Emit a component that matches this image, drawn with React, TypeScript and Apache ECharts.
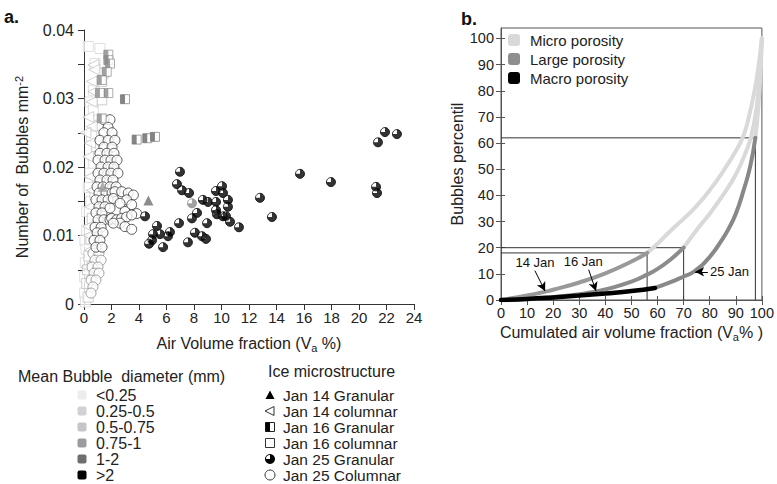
import React, { useEffect, useRef } from 'react';
import * as echarts from 'echarts';

const FONT = 'Liberation Sans, Arial, Helvetica, sans-serif';

// ---------- Panel a: scatter data ----------
const xTicksA = [0, 2, 4, 6, 8, 10, 12, 14, 16, 18, 20, 22, 24];

// Jan 25 Granular (diameter > 2)
const jan25Granular: number[][] = [
  [6.98, 0.0193], [6.76, 0.0175], [7.13, 0.0166], [7.64, 0.0162], [8.65, 0.0152], [9.02, 0.0149],
  [4.44, 0.0128], [9.6, 0.0165], [10.04, 0.0172], [10.11, 0.0162], [10.47, 0.0152], [9.6, 0.0149],
  [10.47, 0.0142], [9.6, 0.0137], [9.67, 0.0131], [10.11, 0.0128], [10.33, 0.0128], [10.62, 0.012],
  [11.27, 0.0112], [12.8, 0.0155], [13.67, 0.0127], [15.71, 0.019], [17.96, 0.0178], [8.22, 0.0133],
  [7.85, 0.0125], [8.95, 0.0118], [6.91, 0.0118], [8.07, 0.0104], [8.58, 0.0099], [8.87, 0.0095],
  [7.56, 0.009], [6.25, 0.0105], [6.11, 0.0099], [5.53, 0.0102], [5.02, 0.0102], [5.31, 0.0114],
  [4.95, 0.0093], [4.73, 0.0088], [5.75, 0.0083], [21.38, 0.0236], [21.89, 0.0251], [22.76, 0.0248],
  [21.24, 0.0171], [21.31, 0.0162]
];
// Jan 25 Granular (diameter 0.75-1)
const jan25GranularGray: number[][] = [[7.85, 0.0147]];

// Jan 25 Columnar (open circles)
const jan25Columnar: number[][] = [
  [1.45, 0.0269], [1.89, 0.0269], [1.75, 0.0258], [1.45, 0.025], [2.04, 0.025], [1.16, 0.0239],
  [1.75, 0.0239], [2.25, 0.0239], [1.45, 0.0229], [2.04, 0.0229], [1.16, 0.022], [1.67, 0.022],
  [2.18, 0.022], [1.02, 0.021], [1.53, 0.021], [1.96, 0.021], [2.4, 0.021], [1.24, 0.02],
  [1.75, 0.02], [2.18, 0.02], [1.02, 0.0191], [1.45, 0.0191], [1.96, 0.0191], [2.47, 0.0191],
  [1.16, 0.0181], [1.67, 0.0181], [2.11, 0.0181], [0.95, 0.0171], [1.38, 0.0171], [1.89, 0.0171],
  [2.33, 0.0171], [1.09, 0.0162], [1.6, 0.0162], [2.04, 0.0162], [0.87, 0.0152], [1.31, 0.0152],
  [1.75, 0.0152], [1.09, 0.0142], [1.53, 0.0142], [0.87, 0.0133], [1.31, 0.0133], [1.02, 0.0123],
  [1.45, 0.0123], [1.89, 0.0123], [0.8, 0.0112], [1.24, 0.0112], [0.95, 0.0104], [1.38, 0.0104],
  [0.73, 0.0093], [1.16, 0.0093], [0.87, 0.0083], [1.31, 0.0083],
  [2.25, 0.0164], [2.74, 0.0164], [3.22, 0.0162], [3.59, 0.0159], [2.13, 0.0154], [3.1, 0.0152],
  [2.62, 0.0147], [3.47, 0.0145], [1.89, 0.014], [2.98, 0.0135], [3.83, 0.0132], [2.01, 0.0125],
  [2.38, 0.0123], [2.74, 0.0125], [3.1, 0.0127], [3.47, 0.013], [2.62, 0.0118], [2.98, 0.0113],
  [3.47, 0.0109], [2.13, 0.0118]
];
const jan25ColumnarSmall: number[][] = [
  [0.65, 0.0074], [1.09, 0.0074], [0.8, 0.0064], [1.24, 0.0064], [0.58, 0.0054], [1.02, 0.0054],
  [0.73, 0.0045], [1.09, 0.0045], [0.51, 0.0035], [0.87, 0.0035], [0.65, 0.0025], [0.51, 0.0016]
];

// Jan 16 columnar (open squares)
const jan16ColumnarLight: number[][] = [
  [1.16, 0.0373], [0.31, 0.0376], [0.8, 0.0351], [0.68, 0.0312], [0.44, 0.0295], [0.68, 0.0283],
  [0.55, 0.0245], [0.68, 0.0205], [0.44, 0.0191], [0.3, 0.017], [0.5, 0.015], [0.2, 0.0135],
  [0.2, 0.0108], [0.07, 0.0093], [0.15, 0.008], [0.1, 0.006], [0.05, 0.004], [-0.05, 0.003],
  [0.05, 0.0016], [0.1, 0.0003]
];
const jan16ColumnarMid: number[][] = [
  [1.4, 0.0337], [1.29, 0.0325], [1.29, 0.0298], [1.16, 0.0261], [0.9, 0.023], [1.0, 0.0185],
  [0.8, 0.016], [0.6, 0.0125], [0.5, 0.0095], [0.35, 0.007], [0.25, 0.005], [0.2, 0.003], [0.3, 0.001]
];

// Jan 14 columnar (left triangles)
const jan14Columnar: number[][] = [
  [0.68, 0.0349], [0.75, 0.0342], [0.56, 0.0325], [0.68, 0.031], [0.56, 0.0295], [0.31, 0.0273],
  [0.56, 0.0259], [0.1, 0.025], [0.44, 0.0235], [0.3, 0.0215], [0.44, 0.0186], [0.56, 0.0166],
  [0.44, 0.0142], [0.31, 0.0113], [0.44, 0.0079], [0.2, 0.0054], [0.56, 0.004], [0.35, 0.01],
  [0.6, 0.006]
];

// Jan 16 Granular (half-filled squares)
const jan16Granular: number[][] = [
  [1.77, 0.0364], [1.77, 0.0356], [1.89, 0.0351], [1.65, 0.0339], [1.29, 0.0327], [1.77, 0.0308],
  [1.16, 0.0308], [1.29, 0.0271]
];
const jan16GranularDark: number[][] = [[2.98, 0.0299], [3.83, 0.024], [4.6, 0.0242], [5.16, 0.0244]];

// Jan 14 Granular (filled triangles)
const jan14GranularMid: number[][] = [[1.36, 0.0171]];
const jan14GranularDark: number[][] = [[4.68, 0.0151]];

// ---------- Panel b: curves ----------
const jan14Large: number[][] = [[0, 0], [10, 1.7], [17, 3.2], [20, 3.9], [30, 6.7], [40, 10.2], [50, 14.7], [56, 18]];
const jan14Micro: number[][] = [[56, 18], [60, 21.5], [65, 26.5], [70, 31], [75, 36], [80, 42], [85, 49], [90, 57], [93, 63], [95, 70], [97, 79], [98.5, 88], [100, 100]];
const jan16Large: number[][] = [[0, 0], [10, 0.4], [20, 1.1], [30, 2.2], [36, 3.2], [40, 4], [50, 7], [56, 9.7], [60, 11.9], [65, 15.5], [70, 20]];
const jan16Micro: number[][] = [[70, 20], [75, 26.8], [80, 33], [85, 40], [90, 48], [94, 57], [96, 63], [98, 74], [99, 84], [100, 100]];
const jan25Macro: number[][] = [[0, 0], [10, 0.4], [20, 1], [30, 1.7], [40, 2.5], [50, 3.4], [59, 4.6]];
const jan25Large: number[][] = [[59, 4.6], [65, 6.8], [70, 9], [74, 10.9], [80, 16.5], [85, 23.5], [87, 26.8], [90, 33], [93, 42], [95.5, 51], [97.5, 62]];
const jan25Micro: number[][] = [[97.5, 62], [98.5, 72], [99.3, 84], [100, 100]];

const ref14: number[][] = [[0, 18], [56, 18], [56, 0]];
const ref16: number[][] = [[0, 20], [70, 20], [70, 0]];
const ref25: number[][] = [[0, 62], [97.5, 62], [97.5, 0]];

const yTicksB = [0, 10, 20, 30, 40, 50, 60, 70, 80, 90, 100];

// legends
const diameterClasses = ['<0.25', '0.25-0.5', '0.5-0.75', '0.75-1', '1-2', '>2'];
const diameterColors = ['#ececec', '#d2d2d2', '#c6c6c6', '#9c9c9c', '#6e6e6e', '#000000'];
const iceClasses = ['Jan 14 Granular', 'Jan 14 columnar', 'Jan 16 Granular', 'Jan 16 columnar', 'Jan 25 Granular', 'Jan 25 Columnar'];
const porosityNames = ['Micro porosity', 'Large porosity', 'Macro porosity'];
const porosityColors = ['#d9d9d9', '#8e8e8e', '#000000'];

const annotations = [
  { text: '14 Jan', at: [13, 14.3], from: [13, 11.2], to: [16.9, 3.4] },
  { text: '16 Jan', at: [31.5, 14.6], from: [33.6, 11.6], to: [36.4, 3.4] },
  { text: '25 Jan', at: [87.6, 10.8], from: [79.3, 10.8], to: [74.4, 10.8] },
];

const QUARTER_PATH = 'path://M50,50 L50,0 A50,50 0 1 1 0,50 Z';

function sc(data: number[][], extra: any) {
  return { type: 'scatter', xAxisIndex: 0, yAxisIndex: 0, data, symbolSize: 10, silent: true, ...extra };
}
function curve(data: number[][], color: string, width: number, z: number) {
  return {
    type: 'line', xAxisIndex: 1, yAxisIndex: 1, data, smooth: true, symbol: 'none', z,
    lineStyle: { color, width, cap: 'round' }, silent: true,
  };
}
function refLine(data: number[][], extra: any = {}) {
  return {
    type: 'line', xAxisIndex: 1, yAxisIndex: 1, data, symbol: 'none', z: 1,
    lineStyle: { color: '#333', width: 1 }, silent: true, ...extra,
  };
}

export default function App() {
  const ref = useRef<HTMLDivElement>(null);
  useEffect(() => {
    if (!ref.current) return;
    const chart = echarts.init(ref.current, null, { renderer: 'svg' });
    const textBase = { fontFamily: FONT, color: '#222' };

    const series: any[] = [
      sc(jan16ColumnarLight, { symbol: 'rect', itemStyle: { color: '#fff', borderColor: '#d8d8d8', borderWidth: 1 } }),
      sc(jan16ColumnarMid, { symbol: 'rect', itemStyle: { color: '#fff', borderColor: '#c2c2c2', borderWidth: 1 } }),
      sc(jan14Columnar, { symbol: 'triangle', symbolRotate: 90, symbolSize: 11, itemStyle: { color: '#fff', borderColor: '#c4c4c4', borderWidth: 1 } }),
      sc(jan25ColumnarSmall, { symbol: 'circle', itemStyle: { color: '#fff', borderColor: '#888', borderWidth: 1 } }),
      sc(jan25Columnar, { symbol: 'circle', itemStyle: { color: '#fff', borderColor: '#333', borderWidth: 1 } }),
      sc(jan16Granular, { symbol: 'rect', symbolSize: 9, itemStyle: { color: '#fff', borderColor: '#999', borderWidth: 1 } }),
      sc(jan16Granular, { symbol: 'rect', symbolSize: [4.5, 9], symbolOffset: [-2.25, 0], itemStyle: { color: '#8a8a8a' } }),
      sc(jan16GranularDark, { symbol: 'rect', symbolSize: 9, itemStyle: { color: '#fff', borderColor: '#888', borderWidth: 1 } }),
      sc(jan16GranularDark, { symbol: 'rect', symbolSize: [4.5, 9], symbolOffset: [-2.25, 0], itemStyle: { color: '#666' } }),
      sc(jan14GranularMid, { symbol: 'triangle', symbolSize: 10, itemStyle: { color: '#9c9c9c' } }),
      sc(jan14GranularDark, { symbol: 'triangle', symbolSize: 10, itemStyle: { color: '#6e6e6e' } }),
      sc(jan25Granular, { symbol: 'circle', symbolSize: 9, itemStyle: { color: '#fff', borderColor: '#000', borderWidth: 1 } }),
      sc(jan25Granular, { symbol: QUARTER_PATH, symbolSize: 9, itemStyle: { color: '#000' } }),
      sc(jan25GranularGray, { symbol: 'circle', symbolSize: 9, itemStyle: { color: '#fff', borderColor: '#888', borderWidth: 1 } }),
      sc(jan25GranularGray, { symbol: QUARTER_PATH, symbolSize: 9, itemStyle: { color: '#888' } }),
      // panel b
      refLine(ref14),
      refLine(ref16),
      refLine(ref25, {
        markLine: {
          silent: true, symbol: ['none', 'arrow'], symbolSize: [7, 9], label: { show: false },
          lineStyle: { color: '#000', width: 1, type: 'solid' },
          data: annotations.map((a) => [{ coord: a.from }, { coord: a.to }]),
        },
        markPoint: {
          silent: true, symbol: 'circle', symbolSize: 1, itemStyle: { color: 'rgba(0,0,0,0)' },
          label: { show: true, position: 'inside', fontSize: 13, fontFamily: FONT, color: '#111', formatter: (p: any) => p.name },
          data: annotations.map((a) => ({ name: a.text, coord: a.at })),
        },
      }),
      curve(jan14Micro, porosityColors[0], 4, 2),
      curve(jan16Micro, porosityColors[0], 4, 2),
      curve(jan25Micro, porosityColors[0], 4, 2),
      curve(jan14Large, '#999999', 4, 3),
      curve(jan16Large, '#8c8c8c', 4, 3),
      curve(jan25Large, '#888888', 4, 3),
      curve(jan25Macro, '#000000', 4.5, 4),
    ];

    const graphic: any[] = [
      { type: 'text', left: 4, top: 8, style: { text: 'a.', font: `bold 18px ${FONT}`, fill: '#111' } },
      { type: 'text', left: 461, top: 10, style: { text: 'b.', font: `bold 18px ${FONT}`, fill: '#111' } },
      { type: 'text', x: 18, y: 376, style: { text: 'Mean Bubble  diameter (mm)', font: `16px ${FONT}`, fill: '#222', verticalAlign: 'middle' } },
      { type: 'text', x: 268, y: 371, style: { text: 'Ice microstructure', font: `16px ${FONT}`, fill: '#222', verticalAlign: 'middle' } },
    ];
    diameterClasses.forEach((c, i) => {
      const y = 395 + i * 16;
      graphic.push({ type: 'rect', shape: { x: 77.5, y: y - 4.5, width: 9, height: 9, r: 2 }, style: { fill: diameterColors[i] } });
      graphic.push({ type: 'text', x: 96, y, style: { text: c, font: `16px ${FONT}`, fill: '#222', verticalAlign: 'middle' } });
    });
    iceClasses.forEach((c, i) => {
      const y = 395 + i * 16;
      const cx = 270;
      if (i === 0) graphic.push({ type: 'polygon', shape: { points: [[cx - 4.5, y + 4], [cx + 4.5, y + 4], [cx, y - 4.5]] }, style: { fill: '#000' } });
      if (i === 1) graphic.push({ type: 'polygon', shape: { points: [[cx + 4, y - 4.5], [cx + 4, y + 4.5], [cx - 5, y]] }, style: { fill: '#fff', stroke: '#333', lineWidth: 1 } });
      if (i === 2) {
        graphic.push({ type: 'rect', shape: { x: cx - 4.5, y: y - 4.5, width: 9, height: 9 }, style: { fill: '#fff', stroke: '#222', lineWidth: 1 } });
        graphic.push({ type: 'rect', shape: { x: cx - 4.5, y: y - 4.5, width: 4.5, height: 9 }, style: { fill: '#000' } });
      }
      if (i === 3) graphic.push({ type: 'rect', shape: { x: cx - 4.5, y: y - 4.5, width: 9, height: 9 }, style: { fill: '#fff', stroke: '#333', lineWidth: 1 } });
      if (i === 4) {
        graphic.push({ type: 'circle', shape: { cx, cy: y, r: 5 }, style: { fill: '#000' } });
        graphic.push({ type: 'sector', shape: { cx, cy: y, r: 4, r0: 0, startAngle: Math.PI, endAngle: Math.PI * 1.5 }, style: { fill: '#fff' } });
      }
      if (i === 5) graphic.push({ type: 'circle', shape: { cx, cy: y, r: 5 }, style: { fill: '#fff', stroke: '#333', lineWidth: 1 } });
      graphic.push({ type: 'text', x: 283, y, style: { text: c, font: `15.5px ${FONT}`, fill: '#222', verticalAlign: 'middle' } });
    });
    porosityNames.forEach((n, i) => {
      const y = 40 + i * 19;
      graphic.push({ type: 'rect', shape: { x: 508, y: y - 6, width: 12, height: 12, r: 3 }, style: { fill: porosityColors[i] } });
      graphic.push({ type: 'text', x: 530, y, style: { text: n, font: `15px ${FONT}`, fill: '#222', verticalAlign: 'middle' } });
    });

    const option: any = {
      animation: false,
      backgroundColor: '#fff',
      grid: [
        { left: 84, top: 30, width: 330, height: 274 },
        { left: 501, top: 28, width: 261, height: 272, show: true, borderColor: '#555', borderWidth: 1 },
      ],
      xAxis: [
        {
          gridIndex: 0, type: 'value', min: 0, max: 24, interval: 2,
          axisLine: { onZero: false, lineStyle: { color: '#333' } },
          axisTick: { length: 6, lineStyle: { color: '#333' } },
          axisLabel: { ...textBase, fontSize: 15, margin: 6, customValues: xTicksA },
          splitLine: { show: false },
          name: 'Air Volume fraction (V{sub|a} %)', nameLocation: 'middle', nameGap: 30,
          nameTextStyle: { ...textBase, fontSize: 16, rich: { sub: { fontSize: 11, verticalAlign: 'bottom', padding: [8, 0, 0, 0], fontFamily: FONT, color: '#222' } } },
        },
        {
          gridIndex: 1, type: 'value', min: 0, max: 100, interval: 10,
          axisLine: { onZero: false, lineStyle: { color: '#555' } },
          axisTick: { length: 5, lineStyle: { color: '#555' } },
          axisLabel: { ...textBase, fontSize: 14.5, margin: 5 },
          splitLine: { show: false },
          name: 'Cumulated air volume fraction (V{sub|a}% )', nameLocation: 'middle', nameGap: 22,
          nameTextStyle: { ...textBase, fontSize: 16, rich: { sub: { fontSize: 11, verticalAlign: 'bottom', padding: [8, 0, 0, 0], fontFamily: FONT, color: '#222' } } },
        },
        {
          gridIndex: 1, type: 'value', min: 0, max: 100, interval: 10, position: 'bottom',
          axisLine: { show: false }, axisLabel: { show: false }, splitLine: { show: false },
          axisTick: { inside: true, length: 4, lineStyle: { color: '#555' } },
        },
      ],
      yAxis: [
        {
          gridIndex: 0, type: 'value', min: 0, max: 0.04, interval: 0.01,
          axisLine: { show: true, onZero: false, lineStyle: { color: '#333' } },
          axisTick: { show: true, length: 6, lineStyle: { color: '#333' } },
          minorTick: { show: true, splitNumber: 2, length: 6, lineStyle: { color: '#333' } },
          axisLabel: { ...textBase, fontSize: 16, margin: 10 },
          splitLine: { show: false },
          name: 'Number of  Bubbles mm{sup|-2}', nameLocation: 'middle', nameGap: 52, nameRotate: 90,
          nameTextStyle: { ...textBase, fontSize: 16, rich: { sup: { fontSize: 11, verticalAlign: 'top', padding: [0, 0, 8, 0], fontFamily: FONT, color: '#222' } } },
        },
        {
          gridIndex: 1, type: 'value', min: 0, max: 104, interval: 10,
          axisLine: { show: true, onZero: false, lineStyle: { color: '#555' } },
          axisTick: { show: true, length: 5, customValues: yTicksB, lineStyle: { color: '#555' } },
          axisLabel: { ...textBase, fontSize: 14.5, margin: 7, customValues: yTicksB },
          splitLine: { show: false },
          name: 'Bubbles percentil', nameLocation: 'middle', nameGap: 36, nameRotate: 90,
          nameTextStyle: { ...textBase, fontSize: 16 },
        },
        {
          gridIndex: 1, type: 'value', min: 0, max: 104, interval: 10, position: 'left',
          axisLine: { show: false }, axisLabel: { show: false }, splitLine: { show: false },
          axisTick: { show: true, inside: true, length: 4, customValues: yTicksB, lineStyle: { color: '#555' } },
        },
      ],
      series,
      graphic,
    };
    chart.setOption(option);
    return () => chart.dispose();
  }, []);
  return <div ref={ref} style={{ position: 'fixed', left: 0, top: 0, width: 777, height: 484 }} />;
}
